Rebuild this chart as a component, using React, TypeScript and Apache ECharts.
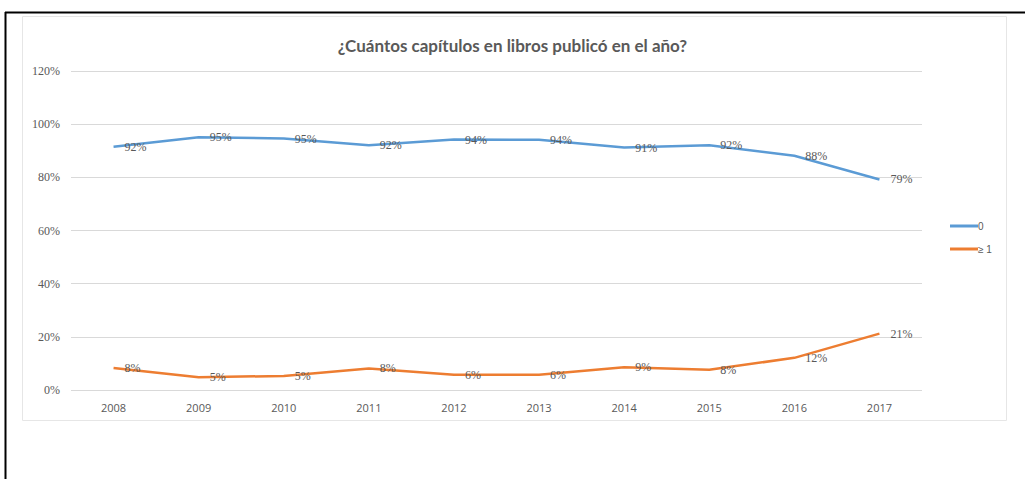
import React, { useEffect, useRef } from "react";
import * as echarts from "echarts";

const years = ["2008", "2009", "2010", "2011", "2012", "2013", "2014", "2015", "2016", "2017"];
const zeroSeries = [91.5, 95.1, 94.6, 92.1, 94.2, 94.1, 91.2, 92.1, 88.1, 79.2];
const oneOrMore = [8.3, 4.8, 5.3, 8.1, 5.7, 5.7, 8.6, 7.6, 12.1, 21.2];
const titleText = "¿Cuántos capítulos en libros publicó en el año?";
const seriesNames = ["0", "≥ 1"];

export default function App() {
  const ref = useRef<HTMLDivElement>(null);
  useEffect(() => {
    const chart = echarts.init(ref.current!, null, { renderer: "svg" });
    const labelStyle = {
      show: true,
      position: "right" as const,
      distance: 11,
      fontFamily: "Liberation Serif",
      fontSize: 12,
      color: "#595959",
      formatter: (p: any) => Math.round(p.value) + "%",
    };
    chart.setOption({
      animation: false,
      backgroundColor: "#ffffff",
      title: {
        text: titleText,
        left: "center",
        top: 32,
        textStyle: { fontFamily: "Lato", fontWeight: "bold", fontSize: 17, color: "#595959" },
      },
      graphic: [
        { type: "rect", shape: { x: 22.5, y: 16.5, width: 984, height: 404 }, style: { fill: "none", stroke: "#e6e6e6", lineWidth: 1 }, z: -1 },
        { type: "line", shape: { x1: 5, y1: 12.5, x2: 1025, y2: 12.5 }, style: { stroke: "#000", lineWidth: 2 } },
        { type: "line", shape: { x1: 5.5, y1: 12, x2: 5.5, y2: 479 }, style: { stroke: "#000", lineWidth: 2 } },
      ],
      legend: {
        orient: "vertical",
        left: 945,
        top: 216,
        itemWidth: 28,
        itemHeight: 3,
        itemGap: 13,
        icon: "rect",
        textStyle: { fontFamily: "Liberation Sans", fontSize: 10, color: "#595959", padding: [0, 0, 0, -5] },
        data: seriesNames,
      },
      grid: { left: 71, right: 103, top: 71, bottom: 89 },
      xAxis: {
        type: "category",
        data: years,
        boundaryGap: true,
        axisLine: { show: false },
        axisTick: { show: false },
        axisLabel: { fontFamily: "Open Sans", fontSize: 11, color: "#595959", margin: 12 },
      },
      yAxis: {
        type: "value",
        min: 0,
        max: 120,
        interval: 20,
        axisLine: { show: false },
        axisTick: { show: false },
        splitLine: { lineStyle: { color: "#d9d9d9", width: 1 } },
        axisLabel: { formatter: "{value}%", fontFamily: "Liberation Serif", fontSize: 12, color: "#595959", margin: 11 },
      },
      series: [
        {
          name: seriesNames[0],
          type: "line",
          data: zeroSeries,
          symbol: "circle",
          symbolSize: 0,
          showSymbol: true,
          lineStyle: { color: "#5b9bd5", width: 2.5 },
          itemStyle: { color: "#5b9bd5" },
          label: labelStyle,
        },
        {
          name: seriesNames[1],
          type: "line",
          data: oneOrMore,
          symbol: "circle",
          symbolSize: 0,
          showSymbol: true,
          lineStyle: { color: "#ed7d31", width: 2.5 },
          itemStyle: { color: "#ed7d31" },
          label: labelStyle,
        },
      ],
    });
    return () => chart.dispose();
  }, []);
  return <div ref={ref} style={{ position: "fixed", left: 0, top: 0, width: 1025, height: 479 }} />;
}
